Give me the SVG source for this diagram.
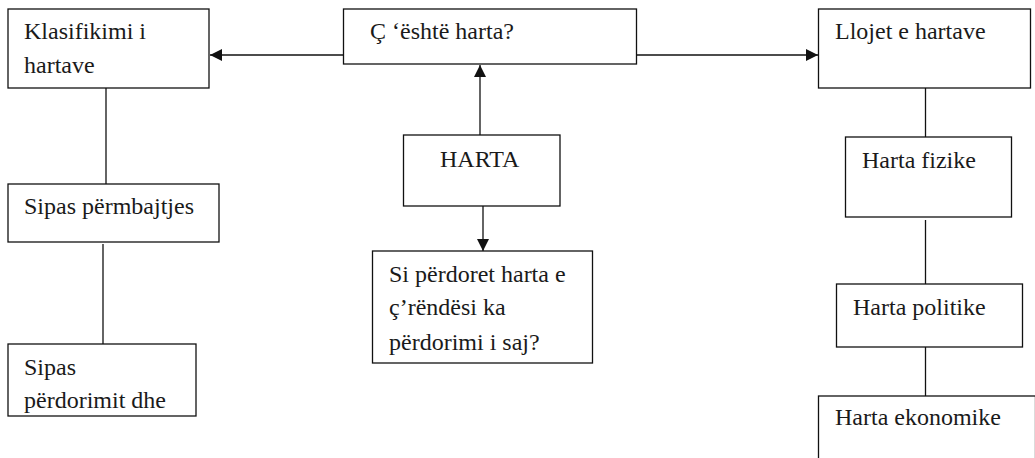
<svg xmlns="http://www.w3.org/2000/svg" width="1035" height="458" viewBox="0 0 1035 458">
<style>
.box{fill:#fff;stroke:#111;stroke-width:1.3}
.t{font-family:"Liberation Serif","Times New Roman",Tinos,"Nimbus Roman","DejaVu Serif","Noto Serif",serif;font-size:24px;fill:#1a1a1a}
.c{stroke:#111;stroke-width:1.3;fill:none}
</style>
<defs>
<marker id="ah" viewBox="0 0 10 10" refX="10" refY="5" markerWidth="12" markerHeight="12" markerUnits="userSpaceOnUse" orient="auto">
<path d="M0,0 L10,5 L0,10 z" fill="#111"/>
</marker>
</defs>
<rect width="1035" height="458" fill="#fff"/>
<g id="connectors">
<line class="c" x1="343" y1="55" x2="210" y2="55" marker-end="url(#ah)"/>
<line class="c" x1="637" y1="55" x2="818" y2="55" marker-end="url(#ah)"/>
<line class="c" x1="480" y1="135" x2="480" y2="65" marker-end="url(#ah)"/>
<line class="c" x1="483" y1="206" x2="483" y2="251" marker-end="url(#ah)"/>
<line class="c" x1="106" y1="88" x2="106" y2="184"/>
<line class="c" x1="103" y1="244" x2="103" y2="344"/>
<line class="c" x1="925.5" y1="88" x2="925.5" y2="137"/>
<line class="c" x1="925.5" y1="220" x2="925.5" y2="284"/>
<line class="c" x1="925.5" y1="347" x2="925.5" y2="396"/>
</g>
<g id="n-klasifikimi">
<rect class="box" x="8" y="9" width="201" height="79"/>
<text class="t" x="24" y="39" font-family="Liberation Serif, serif">Klasifikimi i</text>
<text class="t" x="24" y="73" font-family="Liberation Serif, serif">hartave</text>
</g>
<g id="n-cesht">
<rect class="box" x="343.5" y="9" width="293" height="55"/>
<text class="t" x="370" y="39">Ç ‘është harta?</text>
</g>
<g id="n-llojet">
<rect class="box" x="818.5" y="9" width="212" height="79"/>
<text class="t" x="835" y="39">Llojet e hartave</text>
</g>
<g id="n-harta">
<rect class="box" x="403.5" y="135" width="156.5" height="71"/>
<text class="t" x="440" y="167">HARTA</text>
</g>
<g id="n-si">
<rect class="box" x="372.5" y="251" width="220" height="112"/>
<text class="t" x="389" y="282">Si përdoret harta e</text>
<text class="t" x="389" y="315">ç’rëndësi ka</text>
<text class="t" x="389" y="350">përdorimi i saj?</text>
</g>
<g id="n-permbajtjes">
<rect class="box" x="8" y="184" width="211" height="58"/>
<text class="t" x="24" y="214">Sipas përmbajtjes</text>
</g>
<g id="n-perdorimit">
<rect class="box" x="8" y="344" width="188" height="72"/>
<text class="t" x="24" y="375">Sipas</text>
<text class="t" x="24" y="408">përdorimit dhe</text>
</g>
<g id="n-fizike">
<rect class="box" x="845.5" y="137" width="166" height="80"/>
<text class="t" x="862" y="168">Harta fizike</text>
</g>
<g id="n-politike">
<rect class="box" x="836.5" y="284" width="186" height="63"/>
<text class="t" x="853" y="315">Harta politike</text>
</g>
<g id="n-ekonomike">
<rect class="box" x="818.5" y="396" width="217" height="80"/>
<text class="t" x="835" y="425">Harta ekonomike</text>
</g>
</svg>
